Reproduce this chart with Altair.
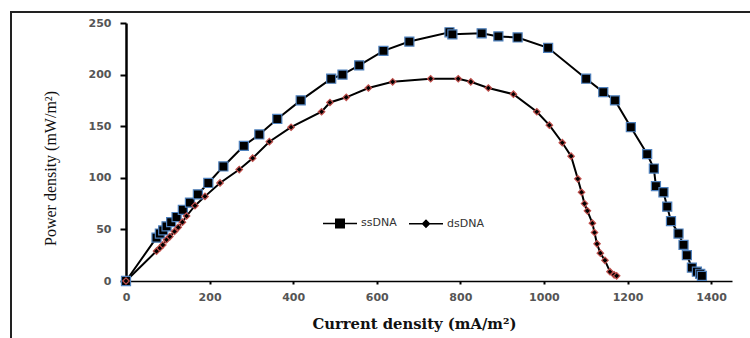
import altair as alt
import pandas as pd

# ---- data ----
ss_x = [0, 73, 81, 89, 97, 108, 121, 136, 153, 172, 197, 233, 282, 319, 362, 418, 491, 518, 558, 616,
        678, 774, 781, 851, 891, 937, 1010, 1101, 1142, 1170, 1208, 1247, 1263, 1268, 1286, 1295, 1304,
        1322, 1334, 1342, 1354, 1366, 1374, 1378]
ss_y = [0, 42, 46, 49, 53, 57, 62, 69, 76, 84, 95, 111, 131, 142, 157, 175, 196, 200, 209, 223,
        232, 241, 239, 240, 237, 236, 226, 196, 183, 175, 149, 123, 109, 92, 86, 72, 58,
        46, 35, 25, 13, 9, 7, 5]
ds_x = [0, 73, 81, 88, 97, 105, 116, 125, 135, 145, 165, 189, 225, 271, 303, 343, 395, 468, 488, 527,
        580, 638, 729, 795, 825, 867, 927, 983, 1013, 1044, 1065, 1081, 1090, 1097, 1104, 1116, 1121,
        1127, 1135, 1146, 1158, 1168, 1174]
ds_y = [0, 29, 32, 35, 40, 43, 48, 52, 57, 63, 73, 82, 95, 108, 119, 135, 149, 164, 173, 178,
        187, 193, 196, 196, 193, 187, 181, 164, 151, 134, 121, 99, 86, 75, 68, 56, 47,
        36, 27, 20, 9, 6, 5]
series_names = ["ssDNA", "dsDNA"]
x_ticks = [0, 200, 400, 600, 800, 1000, 1200, 1400]
y_ticks = [0, 50, 100, 150, 200, 250]

rows = []
for i, (x, y) in enumerate(zip(ss_x, ss_y)):
    rows.append({"series": "ssDNA", "x": x, "y": y, "idx": i})
for i, (x, y) in enumerate(zip(ds_x, ds_y)):
    rows.append({"series": "dsDNA", "x": x, "y": y, "idx": i})
df = pd.DataFrame(rows)

W, H = 606, 258

xenc = alt.X("x:Q", scale=alt.Scale(domain=[0, 1450], nice=False, zero=True),
             axis=alt.Axis(values=x_ticks, format="d", title="Current density (mA/m²)", grid=False,
                           labelFlush=False,
                           domainColor="black", domainWidth=1.5, tickColor="black",
                           tickWidth=2, tickSize=3, labelPadding=7,
                           labelFont="DejaVu Sans", labelFontWeight="bold", labelFontSize=11,
                           labelColor="#555555",
                           titleFont="DejaVu Serif", titleFontWeight="bold", titleFontSize=14.8,
                           titleColor="#111111", titleX=288, titleY=43, titleBaseline="middle",
                           titleAlign="center"))
yenc = alt.Y("y:Q", scale=alt.Scale(domain=[0, 250], nice=False),
             axis=alt.Axis(values=y_ticks, format="d", title="Power density (mW/m²)", grid=False,
                           labelFlush=False,
                           domainColor="black", domainWidth=2.5, tickColor="black",
                           tickWidth=2, tickSize=6, labelPadding=9,
                           labelFont="DejaVu Sans", labelFontWeight="bold", labelFontSize=11,
                           labelColor="#555555",
                           titleFont="Liberation Serif", titleFontWeight="normal", titleFontSize=16,
                           titleColor="#111111", titleX=-76, titleY=145, titleAngle=-90,
                           titleBaseline="middle", titleAlign="center"))

base = alt.Chart(df)

lines = base.mark_line(color="black", strokeWidth=2).encode(
    x=xenc, y=yenc, detail="series:N", order="idx:Q")

points = base.mark_point(filled=True, color="black", opacity=1, strokeWidth=1.2).encode(
    x="x:Q", y="y:Q",
    shape=alt.Shape("series:N", scale=alt.Scale(domain=series_names, range=["square", "diamond"]),
                    legend=None),
    size=alt.Size("series:N", scale=alt.Scale(domain=series_names, range=[82, 42]), legend=None),
    stroke=alt.Stroke("series:N", scale=alt.Scale(domain=series_names, range=["#4f81bd", "#c0504d"]),
                      legend=None),
)

# legend-only layer (no visible data) with line+marker symbols
sq_path = "M-1,0H-0.25M0.25,0H1M-0.25,-0.25H0.25V0.25H-0.25Z"
di_path = "M-1,0H-0.2M0.2,0H1M-0.2,0L0,-0.2L0.2,0L0,0.2Z"
lg_legend = alt.Legend(title=None, orient="none", legendX=196, legendY=182,
                       direction="horizontal", symbolSize=1156,
                       symbolStrokeWidth=1.5, labelOffset=3, columnPadding=9,
                       labelFont="DejaVu Sans", labelFontSize=11,
                       labelColor="#333333", padding=0)
legend_layer = base.transform_filter("false").transform_calculate(lg="datum.series").mark_point(
    filled=True, color="black", opacity=1, strokeWidth=1.5).encode(
    x="x:Q", y="y:Q",
    shape=alt.Shape("lg:N", scale=alt.Scale(domain=series_names, range=[sq_path, di_path]),
                    legend=lg_legend),
    stroke=alt.Stroke("lg:N", scale=alt.Scale(domain=series_names, range=["black", "black"]),
                      legend=lg_legend),
)

frame_data = alt.Data(values=[{"a": 1}])
frame_left = alt.Chart(frame_data).mark_rule(color="#222222", strokeWidth=2).encode(
    x=alt.value(-115), y=alt.value(-11), y2=alt.value(400))
frame_top = alt.Chart(frame_data).mark_rule(color="#222222", strokeWidth=2).encode(
    x=alt.value(-116), x2=alt.value(700), y=alt.value(-11))

chart = alt.layer(frame_left, frame_top, lines, points, legend_layer).resolve_scale(
    shape="independent", size="independent", stroke="independent"
).properties(
    width=W, height=H,
    autosize=alt.AutoSizeParams(type="none"),
    padding={"left": 126, "top": 23, "right": 18, "bottom": 57},
    background="white",
).configure_view(stroke=None)

chart.save("out.html", embed_options={"renderer": "svg", "actions": False})
